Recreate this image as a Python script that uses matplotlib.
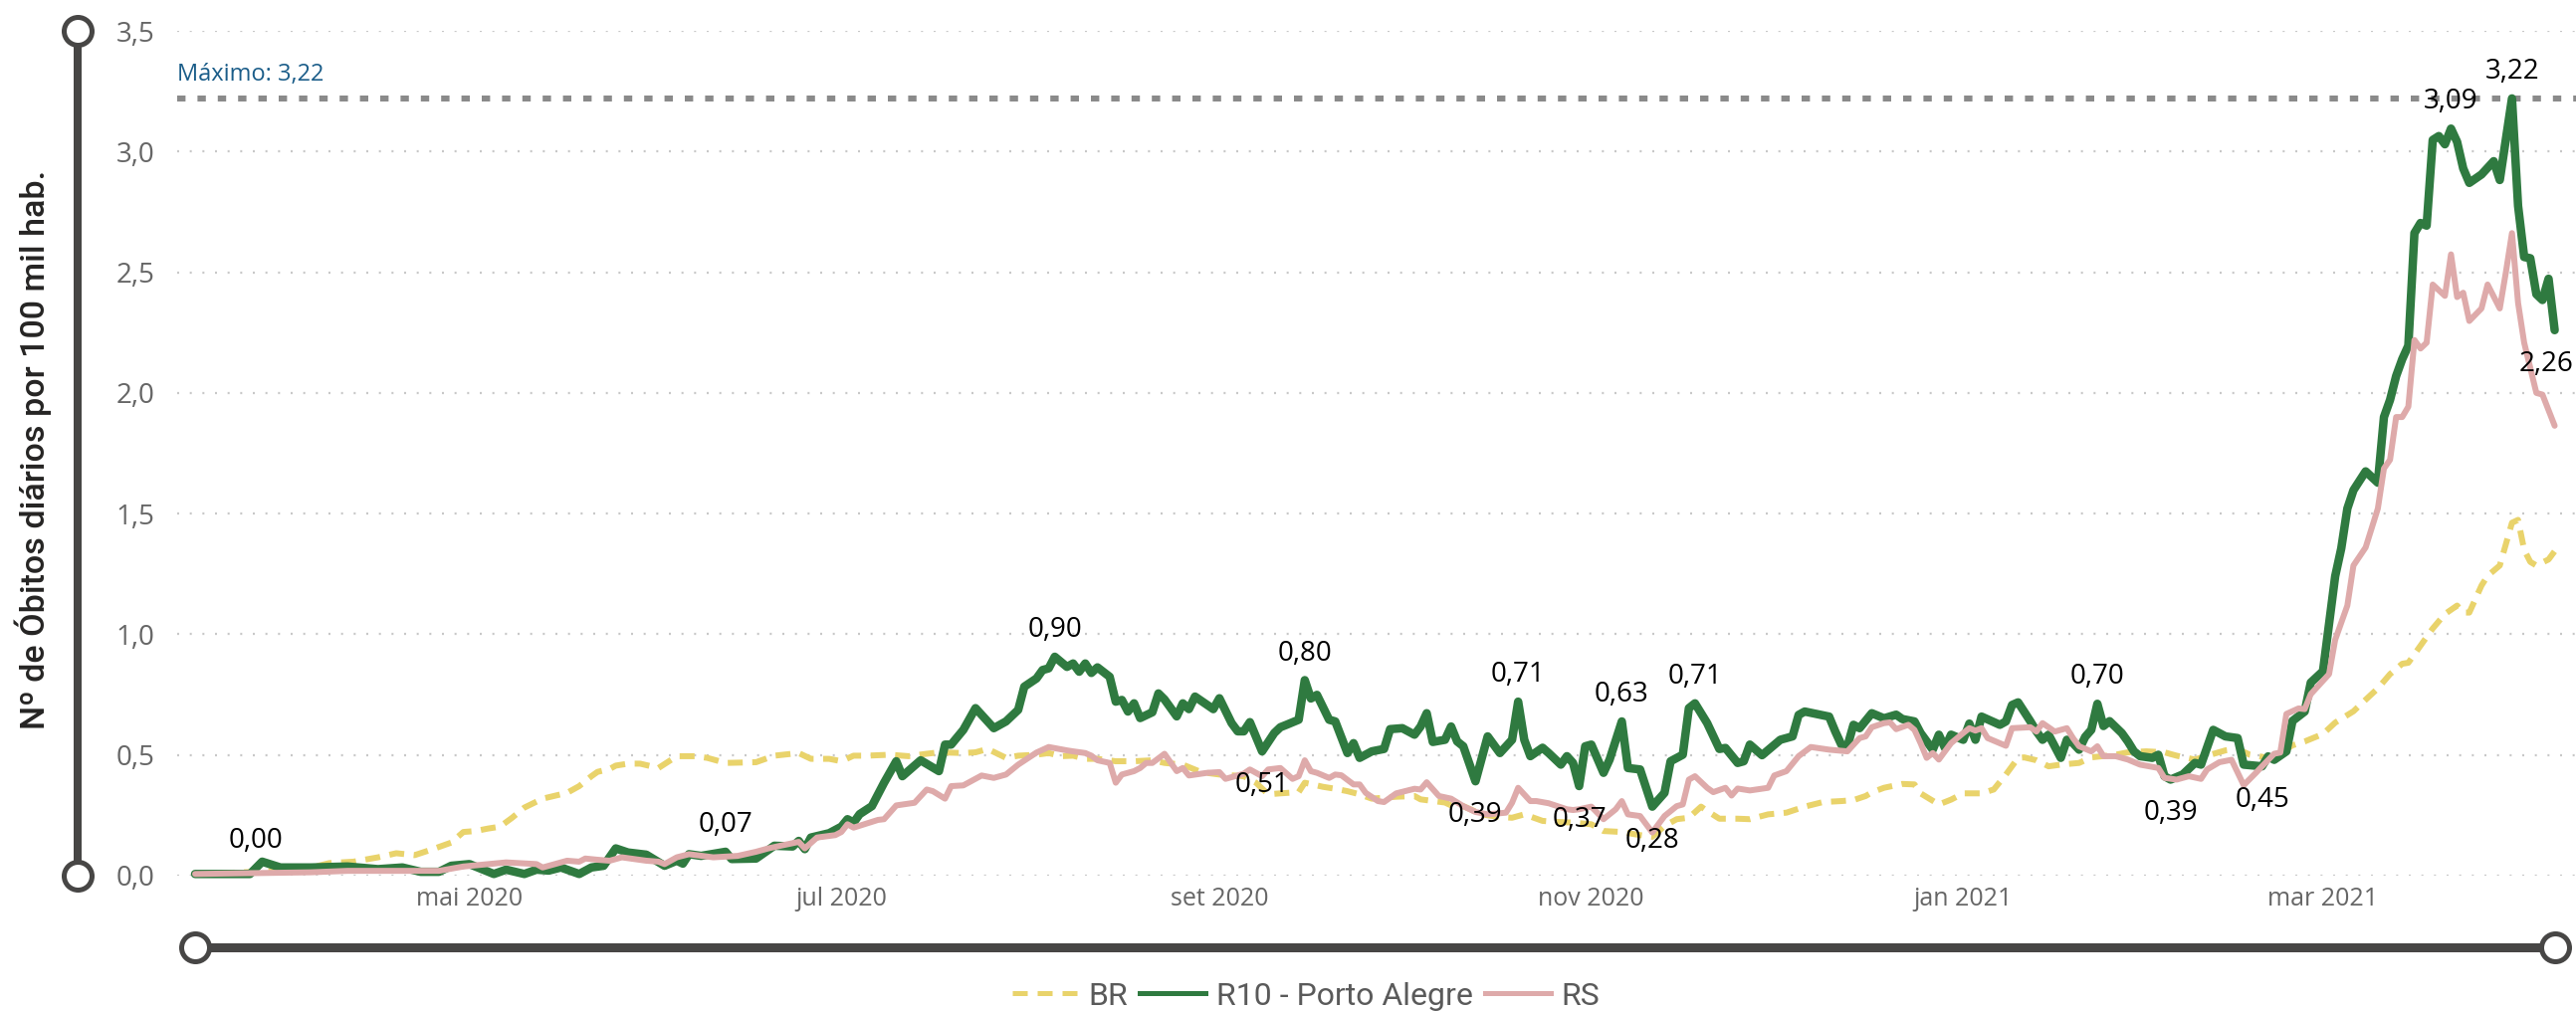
import numpy as np
import pandas as pd
import matplotlib
matplotlib.use('Agg')
import matplotlib.pyplot as plt
import matplotlib.dates as mdates
from matplotlib.lines import Line2D
from matplotlib.transforms import blended_transform_factory

# day 0 = first day of the series
start = pd.Timestamp('2020-03-17')

# BR (dashed yellow)
br_day = [0, 8, 18, 22, 26, 30, 33, 36, 39, 42,
          44, 46, 48, 50, 52, 54, 57, 61, 63, 65,
          66, 68, 69, 71, 73, 76, 79, 82, 84, 87,
          92, 95, 99, 101, 104, 106, 108, 110, 114, 117,
          120, 122, 126, 128, 130, 133, 135, 138, 140, 142,
          144, 146, 148, 151, 154, 157, 159, 162, 165, 168,
          172, 174, 176, 178, 181, 182, 185, 187, 189, 191,
          193, 197, 200, 201, 205, 206, 208, 211, 214, 216,
          218, 221, 223, 226, 229, 231, 234, 237, 239, 241,
          243, 245, 247, 248, 250, 253, 255, 258, 261, 264,
          267, 270, 272, 274, 275, 277, 280, 282, 283, 286,
          288, 290, 293, 295, 297, 299, 300, 302, 304, 306,
          309, 311, 315, 317, 320, 323, 325, 328, 330, 333,
          335, 337, 340, 342, 344, 346, 349, 351, 354, 356,
          358, 360, 362, 363, 365, 367, 369, 371, 372, 373,
          375, 376, 378, 380, 381, 382, 383, 384, 386, 387]
br_val = [0.007, 0.014, 0.027, 0.052, 0.058, 0.076, 0.093, 0.085, 0.110, 0.137,
          0.181, 0.185, 0.195, 0.203, 0.240, 0.282, 0.319, 0.343, 0.371, 0.412,
          0.430, 0.442, 0.456, 0.464, 0.464, 0.446, 0.495, 0.495, 0.488, 0.467,
          0.470, 0.497, 0.508, 0.484, 0.484, 0.474, 0.497, 0.497, 0.501, 0.495,
          0.505, 0.511, 0.508, 0.511, 0.525, 0.488, 0.497, 0.501, 0.508, 0.495,
          0.497, 0.484, 0.484, 0.474, 0.474, 0.478, 0.467, 0.460, 0.429, 0.419,
          0.412, 0.385, 0.337, 0.341, 0.346, 0.385, 0.368, 0.360, 0.350, 0.337,
          0.319, 0.327, 0.330, 0.316, 0.303, 0.291, 0.288, 0.254, 0.243, 0.240,
          0.254, 0.227, 0.223, 0.220, 0.213, 0.185, 0.181, 0.168, 0.161, 0.206,
          0.234, 0.240, 0.286, 0.268, 0.236, 0.236, 0.234, 0.254, 0.261, 0.286,
          0.305, 0.309, 0.313, 0.330, 0.345, 0.364, 0.380, 0.378, 0.341, 0.295,
          0.315, 0.341, 0.341, 0.357, 0.419, 0.488, 0.490, 0.478, 0.453, 0.460,
          0.467, 0.490, 0.501, 0.511, 0.515, 0.511, 0.497, 0.481, 0.497, 0.519,
          0.525, 0.501, 0.488, 0.508, 0.540, 0.556, 0.587, 0.634, 0.681, 0.729,
          0.776, 0.835, 0.878, 0.882, 0.953, 1.024, 1.084, 1.119, 1.090, 1.090,
          1.202, 1.242, 1.285, 1.462, 1.474, 1.350, 1.300, 1.285, 1.310, 1.344]

# R10 - Porto Alegre (green)
r10_day = [0, 9, 11, 14, 19, 25, 30, 34, 37, 40,
           42, 45, 49, 51, 54, 56, 58, 60, 63, 65,
           67, 69, 71, 74, 77, 79, 80, 81, 83, 87,
           88, 92, 95, 98, 99, 100, 101, 104, 106, 107,
           108, 109, 111, 113, 115, 116, 119, 122, 123, 124,
           126, 128, 131, 133, 135, 136, 138, 139, 140, 141,
           143, 144, 145, 146, 147, 148, 150, 151, 152, 153,
           154, 155, 157, 158, 159, 161, 162, 163, 164, 167,
           168, 170, 171, 172, 173, 175, 177, 178, 179, 181,
           182, 183, 184, 186, 187, 189, 190, 191, 193, 195,
           196, 198, 200, 201, 202, 203, 205, 206, 207, 208,
           210, 212, 214, 216, 217, 218, 219, 221, 222, 224,
           225, 226, 227, 228, 229, 231, 232, 234, 235, 237,
           239, 241, 242, 244, 245, 246, 248, 250, 251, 253,
           254, 255, 257, 260, 262, 263, 264, 268, 269, 270,
           271, 272, 273, 275, 277, 279, 280, 282, 283, 285,
           286, 287, 288, 290, 291, 292, 293, 296, 297, 298,
           299, 301, 302, 303, 304, 306, 307, 308, 309, 310,
           311, 312, 313, 314, 316, 317, 318, 319, 321, 322,
           323, 324, 326, 328, 329, 331, 333, 335, 336, 339,
           340, 341, 343, 344, 346, 347, 349, 351, 352, 353,
           354, 356, 358, 359, 360, 361, 362, 363, 364, 365,
           366, 367, 368, 369, 370, 371, 372, 373, 375, 377,
           378, 380, 381, 382, 383, 384, 385, 386, 387]
r10_val = [0.007, 0.007, 0.058, 0.034, 0.034, 0.038, 0.027, 0.034, 0.016, 0.016,
           0.041, 0.048, 0.007, 0.025, 0.007, 0.025, 0.021, 0.034, 0.007, 0.034,
           0.041, 0.113, 0.096, 0.087, 0.041, 0.062, 0.050, 0.089, 0.082, 0.099,
           0.069, 0.071, 0.124, 0.121, 0.144, 0.110, 0.158, 0.176, 0.203, 0.234,
           0.220, 0.255, 0.288, 0.385, 0.474, 0.412, 0.478, 0.433, 0.543, 0.543,
           0.604, 0.694, 0.611, 0.639, 0.687, 0.783, 0.817, 0.852, 0.859, 0.907,
           0.865, 0.879, 0.845, 0.879, 0.840, 0.863, 0.824, 0.721, 0.728, 0.680,
           0.714, 0.653, 0.677, 0.755, 0.730, 0.660, 0.714, 0.690, 0.742, 0.690,
           0.735, 0.632, 0.598, 0.598, 0.636, 0.515, 0.591, 0.615, 0.625, 0.646,
           0.810, 0.734, 0.749, 0.646, 0.639, 0.508, 0.549, 0.488, 0.515, 0.525,
           0.607, 0.611, 0.584, 0.618, 0.673, 0.554, 0.563, 0.618, 0.556, 0.536,
           0.391, 0.577, 0.508, 0.563, 0.721, 0.563, 0.495, 0.530, 0.508, 0.460,
           0.495, 0.467, 0.371, 0.536, 0.543, 0.426, 0.481, 0.639, 0.446, 0.440,
           0.286, 0.343, 0.474, 0.501, 0.694, 0.714, 0.632, 0.525, 0.529, 0.467,
           0.474, 0.543, 0.499, 0.563, 0.577, 0.666, 0.680, 0.659, 0.598, 0.543,
           0.536, 0.625, 0.611, 0.673, 0.652, 0.667, 0.649, 0.639, 0.591, 0.522,
           0.584, 0.529, 0.584, 0.563, 0.630, 0.563, 0.659, 0.625, 0.639, 0.707,
           0.718, 0.640, 0.598, 0.563, 0.584, 0.488, 0.563, 0.549, 0.522, 0.575,
           0.604, 0.712, 0.620, 0.640, 0.591, 0.556, 0.515, 0.495, 0.488, 0.501,
           0.412, 0.398, 0.419, 0.467, 0.460, 0.604, 0.577, 0.570, 0.460, 0.453,
           0.494, 0.480, 0.515, 0.641, 0.680, 0.800, 0.847, 1.240, 1.356, 1.521,
           1.597, 1.675, 1.628, 1.900, 1.971, 2.070, 2.140, 2.196, 2.662, 2.704,
           2.693, 3.048, 3.064, 3.030, 3.095, 3.040, 2.930, 2.870, 2.905, 2.960,
           2.882, 3.220, 2.775, 2.563, 2.558, 2.409, 2.385, 2.473, 2.260]

# RS (pink)
rs_day = [0, 19, 25, 40, 44, 51, 56, 57, 61, 63,
          64, 66, 68, 70, 74, 76, 77, 79, 81, 85,
          89, 92, 94, 96, 99, 100, 102, 105, 106, 107,
          108, 112, 113, 115, 118, 120, 121, 123, 124, 126,
          129, 131, 133, 135, 138, 140, 143, 144, 146, 147,
          148, 150, 151, 152, 154, 155, 156, 157, 159, 161,
          162, 163, 166, 168, 169, 171, 172, 173, 175, 176,
          178, 180, 181, 182, 183, 184, 186, 187, 188, 190,
          191, 192, 194, 195, 197, 200, 201, 202, 204, 206,
          208, 210, 212, 215, 216, 217, 219, 220, 222, 225,
          226, 227, 229, 231, 233, 234, 235, 237, 239, 241,
          243, 244, 245, 246, 248, 249, 251, 252, 253, 255,
          258, 259, 261, 263, 265, 268, 271, 273, 274, 275,
          277, 278, 279, 281, 282, 283, 284, 285, 286, 288,
          290, 291, 292, 293, 294, 297, 298, 301, 302, 303,
          305, 307, 308, 309, 311, 312, 313, 315, 317, 319,
          322, 323, 325, 327, 329, 330, 332, 334, 336, 338,
          339, 341, 342, 343, 345, 346, 347, 350, 351, 353,
          354, 356, 358, 359, 360, 361, 362, 363, 364, 365,
          366, 367, 369, 370, 371, 372, 373, 375, 376, 378,
          379, 380, 381, 382, 384, 385, 387]
rs_val = [0.007, 0.014, 0.020, 0.020, 0.038, 0.055, 0.048, 0.034, 0.062, 0.058,
          0.071, 0.066, 0.062, 0.076, 0.062, 0.058, 0.048, 0.076, 0.089, 0.076,
          0.082, 0.099, 0.113, 0.124, 0.140, 0.113, 0.158, 0.168, 0.181, 0.213,
          0.199, 0.231, 0.234, 0.291, 0.302, 0.357, 0.350, 0.319, 0.371, 0.374,
          0.415, 0.405, 0.419, 0.460, 0.510, 0.533, 0.519, 0.515, 0.508, 0.497,
          0.478, 0.467, 0.385, 0.419, 0.433, 0.446, 0.467, 0.467, 0.505, 0.433,
          0.446, 0.415, 0.426, 0.429, 0.401, 0.415, 0.423, 0.440, 0.412, 0.440,
          0.446, 0.401, 0.412, 0.478, 0.433, 0.426, 0.405, 0.419, 0.416, 0.378,
          0.378, 0.343, 0.309, 0.305, 0.341, 0.360, 0.357, 0.387, 0.330, 0.319,
          0.288, 0.264, 0.254, 0.261, 0.302, 0.364, 0.309, 0.309, 0.300, 0.275,
          0.272, 0.275, 0.286, 0.234, 0.275, 0.309, 0.254, 0.247, 0.179, 0.247,
          0.288, 0.295, 0.398, 0.412, 0.364, 0.346, 0.364, 0.332, 0.361, 0.353,
          0.364, 0.415, 0.433, 0.495, 0.533, 0.522, 0.515, 0.570, 0.577, 0.615,
          0.632, 0.635, 0.607, 0.625, 0.604, 0.549, 0.488, 0.508, 0.481, 0.549,
          0.591, 0.611, 0.601, 0.611, 0.570, 0.538, 0.611, 0.615, 0.597, 0.632,
          0.597, 0.611, 0.570, 0.536, 0.515, 0.536, 0.495, 0.495, 0.481, 0.460,
          0.446, 0.405, 0.398, 0.412, 0.401, 0.440, 0.470, 0.480, 0.375, 0.426,
          0.453, 0.505, 0.510, 0.670, 0.693, 0.690, 0.752, 0.835, 0.977, 1.119,
          1.285, 1.360, 1.521, 1.687, 1.723, 1.900, 1.900, 1.943, 2.219, 2.184,
          2.208, 2.449, 2.402, 2.574, 2.397, 2.415, 2.298, 2.350, 2.449, 2.350,
          2.500, 2.662, 2.373, 2.208, 2.000, 1.993, 1.864]

assert len(br_day) == len(br_val)
assert len(r10_day) == len(r10_val)
assert len(rs_day) == len(rs_val)

# data labels on the green series (day, printed value, side)
lab_day = [10, 87, 141, 175, 182, 210, 217, 227, 234, 239, 246, 312, 324, 339, 370, 380, 387]
lab_val = [0.00, 0.07, 0.90, 0.51, 0.80, 0.39, 0.71, 0.37, 0.63, 0.28, 0.71, 0.70, 0.39, 0.45, 3.09, 3.22, 2.26]
lab_side = ['top', 'top', 'top', 'bottom', 'top', 'bottom', 'top', 'bottom', 'top',
            'bottom', 'top', 'top', 'bottom', 'bottom', 'top', 'top', 'bottom']

month_ticks = ['2020-05-01', '2020-07-01', '2020-09-01', '2020-11-01', '2021-01-01', '2021-03-01']
month_labels = ['mai 2020', 'jul 2020', 'set 2020', 'nov 2020', 'jan 2021', 'mar 2021']
y_ticks = [0, 0.5, 1.0, 1.5, 2.0, 2.5, 3.0, 3.5]

series_names = ['BR', 'R10 - Porto Alegre', 'RS']


def to_dates(days):
    return start + pd.to_timedelta(np.asarray(days, dtype=float), unit='D')


def br_fmt(v, n):
    return f"{v:.{n}f}".replace('.', ',')


W, H = 2588, 1016
px = 0.72  # points per pixel at dpi 100
fig = plt.figure(figsize=(W / 100, H / 100), dpi=100)
ax = fig.add_axes([178 / W, 1 - 880 / H, (W - 178) / W, (880 - 31) / H])

YELLOW = '#E9D36B'
GREEN = '#2F7A40'
PINK = '#DEAAAA'
SLIDER = '#474645'

ax.plot(to_dates(br_day), br_val, color=YELLOW, lw=6 * px, dashes=(2.5, 1.6),
        dash_capstyle='butt', dash_joinstyle='round', clip_on=False, zorder=3)
ax.plot(to_dates(r10_day), r10_val, color=GREEN, lw=8.5 * px,
        solid_joinstyle='round', solid_capstyle='round', clip_on=False, zorder=4)
ax.plot(to_dates(rs_day), rs_val, color=PINK, lw=6 * px,
        solid_joinstyle='round', solid_capstyle='round', clip_on=False, zorder=5)

# max line
gmax = max(r10_val)
ax.axhline(gmax, color='#8A8A8A', lw=6 * px, dashes=(1.4, 2.0), zorder=2)
ax.annotate('Máximo: ' + br_fmt(gmax, 2), xy=(0, gmax), xycoords=('axes fraction', 'data'),
            xytext=(0, 24 * px), textcoords='offset points', ha='left', va='center',
            color='#1B5D89', fontsize=17, family=['Open Sans', 'DejaVu Sans'])

# data labels
for d, v, side in zip(lab_day, lab_val, lab_side):
    y = np.interp(d, r10_day, r10_val)
    dy = 27 * px if side == 'top' else -34 * px
    dx = -8 * px if d == r10_day[-1] else 0
    ax.annotate(br_fmt(v, 2), xy=(to_dates([d])[0], y), xytext=(dx, dy),
                textcoords='offset points', ha='center', va='center',
                fontsize=20, color='black', family=['Open Sans', 'DejaVu Sans'], zorder=6)

# axes
ax.set_xlim(start + pd.Timedelta(days=-2.94), start + pd.Timedelta(days=390.5))
ax.set_ylim(0, 3.5)
ax.set_xticks(pd.to_datetime(month_ticks))
ax.set_xticklabels(month_labels)
ax.set_yticks(y_ticks)
ax.set_yticklabels([br_fmt(v, 1) for v in y_ticks])
ax.tick_params(axis='x', length=0, pad=8, labelsize=18, labelcolor='#666666')
ax.tick_params(axis='y', length=0, pad=16.5, labelsize=20, labelcolor='#666666')
for lab in ax.get_xticklabels() + ax.get_yticklabels():
    lab.set_family(['Open Sans', 'DejaVu Sans'])
for s in ax.spines.values():
    s.set_visible(False)
ax.yaxis.grid(True, color='#C8C8C8', lw=1.6, linestyle=(0, (0.9, 4.8)))
ax.set_axisbelow(True)

# slider decorations
tv = blended_transform_factory(fig.transFigure, ax.transData)
fig.add_artist(Line2D([78 / W, 78 / W], [0, 3.5], transform=tv, color=SLIDER, lw=8 * px,
                      marker='o', markersize=28 * px, markeredgewidth=5 * px,
                      markerfacecolor='white', markeredgecolor=SLIDER, solid_capstyle='butt'))
th = blended_transform_factory(ax.transData, fig.transFigure)
xs = mdates.date2num(to_dates([r10_day[0], r10_day[-1]]))
fig.add_artist(Line2D(xs, [1 - 952 / H] * 2, transform=th, color=SLIDER, lw=9 * px,
                      marker='o', markersize=28 * px, markeredgewidth=5 * px,
                      markerfacecolor='white', markeredgecolor=SLIDER, solid_capstyle='butt'))

# y label
fig.text(33 / W, 1 - 452 / H, 'Nº de Óbitos diários por 100 mil hab.', rotation=90,
         ha='center', va='center', fontsize=24.5, fontweight='medium',
         family=['Roboto', 'DejaVu Sans'], color='#252423')

# legend
handles = [Line2D([], [], color=YELLOW, lw=5 * px, dashes=(3.0, 2.0), dash_capstyle='butt'),
           Line2D([], [], color=GREEN, lw=5 * px),
           Line2D([], [], color=PINK, lw=5 * px)]
fig.legend(handles, series_names, loc='center', bbox_to_anchor=(1312 / W, 1 - 1001 / H),
           ncol=3, frameon=False, handlelength=2.06, handletextpad=0.34, columnspacing=0.38,
           prop={'family': ['Roboto', 'DejaVu Sans'], 'size': 23}, labelcolor='#5A5A5A')

fig.savefig('out.png', dpi=100)
